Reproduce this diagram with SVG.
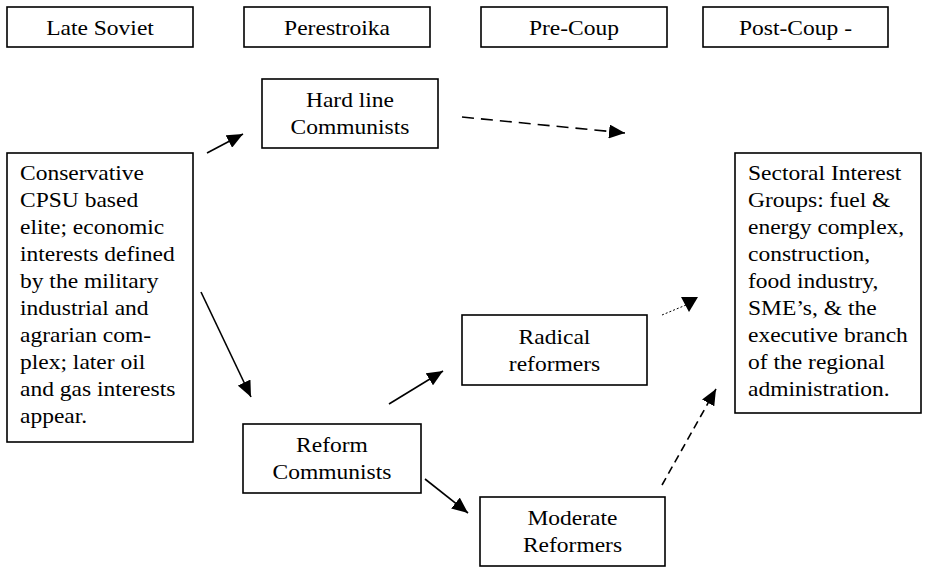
<svg xmlns="http://www.w3.org/2000/svg" width="927" height="567" viewBox="0 0 927 567">
<style>
.box{fill:#fff;stroke:#000;stroke-width:1.6}
.t{font-family:"Liberation Serif","Times New Roman",serif;font-size:21px;fill:#000}
.c{text-anchor:middle}
.ln{fill:none;stroke:#000;stroke-width:1.6}
.dash{stroke-dasharray:12 7}
.dash2{stroke-dasharray:8 5}
.dot{stroke-width:1;stroke-dasharray:2 2}
</style>
<defs>
<marker id="ah" markerUnits="userSpaceOnUse" markerWidth="18" markerHeight="14" refX="16" refY="7" orient="auto">
<path d="M0,0 L16,7 L0,14 Z" fill="#000"/>
</marker>
</defs>
<rect width="927" height="567" fill="#fff"/>

<g id="late-soviet"><rect class="box" x="7" y="7" width="186" height="40"/><text class="t c" transform="scale(1.12 1)" x="89.29" y="35">Late Soviet</text></g>
<g id="perestroika"><rect class="box" x="244" y="7" width="186" height="40"/><text class="t c" transform="scale(1.12 1)" x="300.89" y="35">Perestroika</text></g>
<g id="pre-coup"><rect class="box" x="481" y="7" width="186" height="40"/><text class="t c" transform="scale(1.12 1)" x="512.5" y="35">Pre-Coup</text></g>
<g id="post-coup"><rect class="box" x="703" y="7" width="185" height="40"/><text class="t c" transform="scale(1.12 1)" x="710.27" y="35">Post-Coup -</text></g>

<g id="conservative"><rect class="box" x="7" y="153" width="186" height="289"/>
<text class="t" transform="scale(1.12 1)" x="17.86" y="180">Conservative</text>
<text class="t" transform="scale(1.12 1)" x="17.86" y="207">CPSU based</text>
<text class="t" transform="scale(1.12 1)" x="17.86" y="234">elite; economic</text>
<text class="t" transform="scale(1.12 1)" x="17.86" y="261">interests defined</text>
<text class="t" transform="scale(1.12 1)" x="17.86" y="288">by the military</text>
<text class="t" transform="scale(1.12 1)" x="17.86" y="315">industrial and</text>
<text class="t" transform="scale(1.12 1)" x="17.86" y="342">agrarian com-</text>
<text class="t" transform="scale(1.12 1)" x="17.86" y="369">plex; later oil</text>
<text class="t" transform="scale(1.12 1)" x="17.86" y="396">and gas interests</text>
<text class="t" transform="scale(1.12 1)" x="17.86" y="423">appear.</text>
</g>

<g id="hard-line"><rect class="box" x="262" y="79" width="176" height="69"/>
<text class="t c" transform="scale(1.12 1)" x="312.5" y="107">Hard line</text>
<text class="t c" transform="scale(1.12 1)" x="312.5" y="134">Communists</text></g>

<g id="radical"><rect class="box" x="462" y="315" width="185" height="70"/>
<text class="t c" transform="scale(1.12 1)" x="495.09" y="344">Radical</text>
<text class="t c" transform="scale(1.12 1)" x="495.09" y="371">reformers</text></g>

<g id="reform"><rect class="box" x="243" y="424" width="178" height="69"/>
<text class="t c" transform="scale(1.12 1)" x="296.43" y="452">Reform</text>
<text class="t c" transform="scale(1.12 1)" x="296.43" y="479">Communists</text></g>

<g id="moderate"><rect class="box" x="480" y="497" width="185" height="69"/>
<text class="t c" transform="scale(1.12 1)" x="511.16" y="525">Moderate</text>
<text class="t c" transform="scale(1.12 1)" x="511.16" y="552">Reformers</text></g>

<g id="sectoral"><rect class="box" x="735" y="153" width="186" height="260"/>
<text class="t" transform="scale(1.12 1)" x="667.86" y="180">Sectoral Interest</text>
<text class="t" transform="scale(1.12 1)" x="667.86" y="207">Groups: fuel &amp;</text>
<text class="t" transform="scale(1.12 1)" x="667.86" y="234">energy complex,</text>
<text class="t" transform="scale(1.12 1)" x="667.86" y="261">construction,</text>
<text class="t" transform="scale(1.12 1)" x="667.86" y="288">food industry,</text>
<text class="t" transform="scale(1.12 1)" x="667.86" y="315">SME’s, &amp; the</text>
<text class="t" transform="scale(1.12 1)" x="667.86" y="342">executive branch</text>
<text class="t" transform="scale(1.12 1)" x="667.86" y="369">of the regional</text>
<text class="t" transform="scale(1.12 1)" x="667.86" y="396">administration.</text>
</g>

<g id="connectors">
<line class="ln" x1="207" y1="153" x2="243" y2="134" marker-end="url(#ah)"/>
<line class="ln dash" x1="462" y1="117" x2="625" y2="133" marker-end="url(#ah)"/>
<line class="ln" x1="201" y1="292" x2="251" y2="397" marker-end="url(#ah)"/>
<line class="ln" x1="389" y1="404" x2="443" y2="371" marker-end="url(#ah)"/>
<line class="ln" x1="425" y1="479" x2="468" y2="513" marker-end="url(#ah)"/>
<line class="ln dot" x1="662" y1="315" x2="686" y2="305"/>
<polygon points="681,297 698,297 689,312" fill="#000"/>
<line class="ln dash2" x1="662" y1="485" x2="716" y2="389" marker-end="url(#ah)"/>
</g>
</svg>
